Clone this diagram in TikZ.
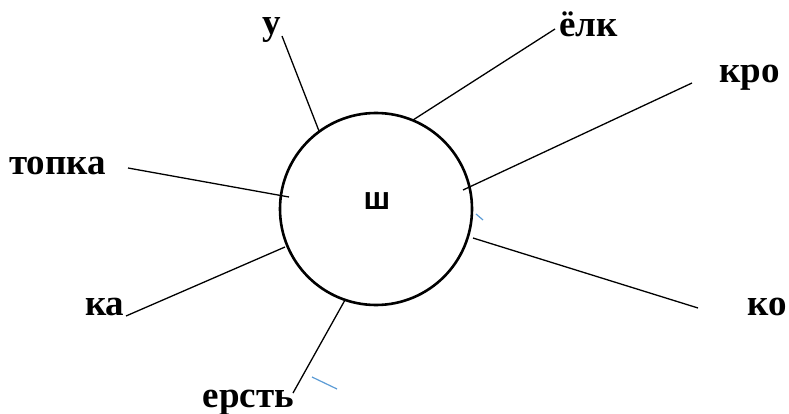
\documentclass[tikz,border=0pt]{standalone}
\usepackage{fontspec}
\setmainfont{Liberation Serif}
\newfontfamily\labelsans{Liberation Sans}
\definecolor{tickblue}{RGB}{91,155,213}
\tikzset{
  lbl/.style={inner sep=0pt, font=\fontsize{37}{40}\selectfont\bfseries},
  ctr/.style={inner sep=0pt, font=\labelsans\fontsize{32}{36}\selectfont\bfseries},
  spoke/.style={line width=1.3pt, black},
  ring/.style={circle, draw, line width=2.6pt, minimum size=192pt, inner sep=0pt},
  tick/.style={line width=1.2pt, tickblue}
}
\begin{document}
\begin{tikzpicture}[x=1pt,y=-1pt]
\useasboundingbox (0,0) rectangle (789,414);
\node[ring] (c) at (376,209) {};
\node[ctr, anchor=base] (sh) at (377,209) {ш};
\node[lbl, anchor=base west] (lu) at (262,35) {у};
\node[lbl, anchor=base west] (lelk) at (559,37) {ёлк};
\node[lbl, anchor=base west] (lkro) at (719,83) {кро};
\node[lbl, anchor=base west] (ltop) at (9,175) {топка};
\node[lbl, anchor=base west] (lka) at (85,315) {ка};
\node[lbl, anchor=base west] (lko) at (747,315) {ко};
\node[lbl, anchor=base east] (lers) at (294,407) {ерсть};
% spoke end points
\coordinate (u1) at (282,36);   \coordinate (u2) at (319,131);
\coordinate (e1) at (555,29);   \coordinate (e2) at (413,120);
\coordinate (k1) at (692,83);   \coordinate (k2) at (463,190);
\coordinate (t1) at (128,168);  \coordinate (t2) at (289,197);
\coordinate (a1) at (126,316);  \coordinate (a2) at (285,247);
\coordinate (o1) at (698,308);  \coordinate (o2) at (473,238);
\coordinate (r1) at (293,393);  \coordinate (r2) at (345,300);
\draw[spoke] (u1) -- (u2);
\draw[spoke] (e1) -- (e2);
\draw[spoke] (k1) -- (k2);
\draw[spoke] (t1) -- (t2);
\draw[spoke] (a1) -- (a2);
\draw[spoke] (o1) -- (o2);
\draw[spoke] (r1) -- (r2);
% small blue ticks
\coordinate (b1) at (476,214); \coordinate (b2) at (483,220);
\coordinate (b3) at (312,377); \coordinate (b4) at (337,389);
\draw[tick] (b1) -- (b2);
\draw[tick] (b3) -- (b4);
\end{tikzpicture}
\end{document}
